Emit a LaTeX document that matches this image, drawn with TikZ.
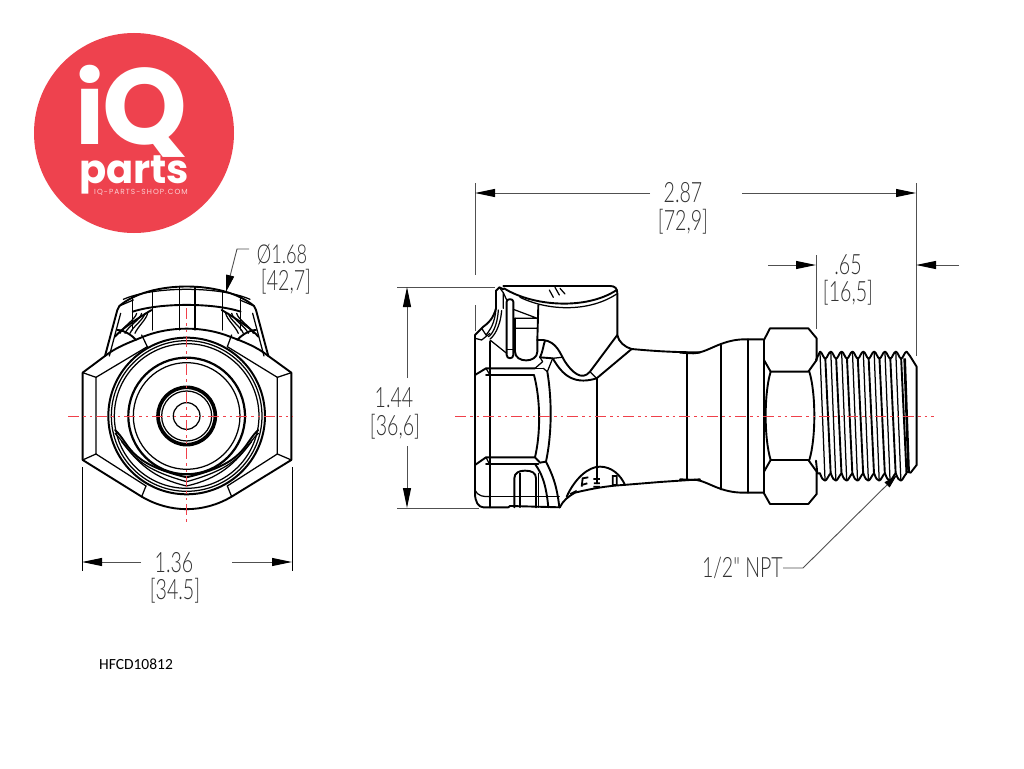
\documentclass[tikz,border=0pt]{standalone}
\usepackage{fontspec}
\usetikzlibrary{arrows.meta}
\setmainfont{Liberation Sans}
\newfontfamily\cad[FakeStretch=0.7]{Lato Light}
\newfontfamily\logofont{Poppins}[BoldFont=* Bold,UprightFont=* Medium]
\newfontfamily\logosmall[LetterSpace=14]{Poppins}
\newfontfamily\partno{Carlito}
\definecolor{logored}{HTML}{EE424E}
\definecolor{cl}{HTML}{F0404A}
\definecolor{dimc}{HTML}{505050}
\tikzset{
 ln/.style={line width=1.25pt,black,line join=round,line cap=round},
 hv/.style={line width=1.9pt,black,line join=round,line cap=round},
 ctr/.style={line width=0.9pt,cl,dash pattern=on 11pt off 4pt on 2.5pt off 4pt on 2.5pt off 4pt},
 ext/.style={line width=0.9pt,dimc},
 arr/.style={line width=1pt,dimc,-{Triangle[length=20pt,width=8pt,black]}},
 dt/.style={font=\cad\fontsize{28}{28}\selectfont,text=black!80,inner sep=0pt,anchor=center}
}
\begin{document}
\begin{tikzpicture}[x=1pt,y=-1pt]
\useasboundingbox (0,0) rectangle (1024,768);
\fill[white] (0,0) rectangle (1024,768);
% logo
\fill[logored] (134,133) circle (100);
\node[name=logoi,inner sep=0pt,text=white,anchor=base west] at (75,144) {\logofont\bfseries\fontsize{99}{99}\selectfont i};
\node[name=logoq,inner sep=0pt,text=white,anchor=base west] at (102,144) {\logofont\bfseries\fontsize{108}{108}\selectfont Q};
\node[name=logoparts,inner sep=0pt,text=white,anchor=base] at (134,183) {\logofont\bfseries\fontsize{40}{40}\selectfont parts};
\node[name=logosite,inner sep=0pt,text=white!75!logored,anchor=center] at (141,192.5) {\logosmall\fontsize{7.4}{7.4}\selectfont IQ-PARTS-SHOP.COM};

% ---------- left view
\begin{scope}[shift={(60,230)},x=0.3333pt,y=-0.3333pt]
 \draw[hv] (68,428)--(135,378) (135,378) .. controls (170,350) and (215,335) .. (250,320);
 \draw[hv] (250,320) .. controls (330,288) and (430,288) .. (510,320);
 \draw[hv] (510,320) .. controls (550,335) and (590,350) .. (625,378)--(694,428);
 \draw[hv] (68,428)--(68,690)--(245,800) .. controls (330,850) and (430,850) .. (515,800)--(694,690)--(694,428);
 \draw[ln] (68,428)--(108,442)--(108,672)--(68,690);
 \draw[ln] (694,428)--(652,442)--(652,672)--(694,690);
 \draw[ln] (108,442)--(262,350) (652,442)--(502,350);
 \draw[ln] (108,672)--(258,768) (652,672)--(502,768);
 \draw[ln] (245,800)--(258,768) (515,800)--(502,768);
 \draw[ln] (245,315)--(262,350) (515,315)--(502,350);
 % cap
 \draw[hv] (135,378)--(172,240)--(178,228) .. controls (270,150) and (490,150) .. (582,228)--(588,240)--(625,378);
 \draw[ln] (148,378)--(182,250) (612,378)--(578,250);
 \draw[ln] (178,228)--(220,210)(582,228)--(540,210);
 \draw[ln] (190,208) .. controls (280,168) and (480,168) .. (570,208);
 \draw[hv] (218,245) .. controls (300,218) and (460,218) .. (542,245);
 \foreach \a/\t in {218/200,278/182,358/171,405/171,488/184,542/200}{\draw[ln] (\a,\t)--(\a,300);}
 \draw[hv] (165,320) .. controls (180,300) and (240,260) .. (275,240);
 \draw[hv] (595,320) .. controls (580,300) and (520,260) .. (485,240);
 \foreach \a/\b in {180/225,195/240,210/250,225/258}{\draw[ln] (\a,310) .. controls (\a+8,290) and (\b,270) .. (\b+5,250);}
 \foreach \a/\b in {580/535,565/520,550/510,535/502}{\draw[ln] (\a,310) .. controls (\a-8,290) and (\b,270) .. (\b-5,250);}
 \draw[hv] (172,300) .. controls (195,300) and (220,320) .. (228,330) (588,300) .. controls (565,300) and (540,320) .. (532,330);
 % rings
 \coordinate (cc) at (380,558);
 \draw[line width=2pt] (cc) circle (235);
 \draw[ln] (cc) circle (226);
 \draw[ln] (cc) circle (217);
 \draw[line width=2.2pt] (cc) circle (175);
 \draw[ln] (cc) circle (160);
 \draw[line width=3.6pt] (cc) circle (86);
 \draw[ln] (cc) circle (75);
 \draw[ln] (cc) circle (40);
 \draw[hv] (165,600) .. controls (210,640) and (200,700) .. (380,742) .. controls (560,700) and (550,640) .. (595,600);
 \draw[ln] (165,610) .. controls (215,660) and (215,710) .. (380,755) .. controls (545,710) and (545,660) .. (595,610);
 \draw[ln] (185,635) .. controls (235,700) and (280,745) .. (380,768) .. controls (480,745) and (525,700) .. (575,635);
 % centre lines
 \draw[ctr] (25,558)--(700,558);
 \draw[ctr] (380,235)--(380,880);
\end{scope}

% ---------- right view, front half
\begin{scope}[shift={(460,270)},x=0.3333pt,y=-0.3333pt]
 \draw[hv] (130,48)--(450,48) .. controls (465,48) and (472,55) .. (472,70)--(472,195) .. controls (475,215) and (495,232) .. (515,237) .. controls (580,243) and (640,247) .. (720,247);
 \draw[hv] (130,58)--(118,52)--(108,62)--(108,115) .. controls (100,145) and (85,160) .. (70,170)--(45,195)--(45,670) .. controls (45,695) and (55,712) .. (70,712)--(145,712)--(150,708)--(300,712);
 \draw[hv] (300,712) .. controls (310,690) and (325,680) .. (345,668) .. controls (400,655) and (440,648) .. (490,645) -- (600,636)--(720,628);
 % cap curves
 \draw[hv] (132,55) .. controls (220,110) and (380,120) .. (470,60);
 \draw[ln] (180,82) .. controls (270,125) and (390,125) .. (470,72);
 \draw[ln] (268,60)--(280,82)(285,52)--(298,75)(300,55)--(315,72);
 \draw[hv] (235,105)--(232,210);
 % clip
 \draw[ln] (118,52)--(130,68)--(130,115) (130,68)--(140,90);
 \draw[hv] (140,95) .. controls (140,85) and (160,85) .. (160,95)--(160,255) .. controls (160,268) and (140,268) .. (140,255)--cycle;
 \draw[ln] (140,238)--(160,238);
 \draw[ln] (160,118)--(232,145) (165,145)--(232,145) (165,175)--(232,175);
 \draw[hv] (165,145)--(165,245) .. controls (165,280) and (232,280) .. (232,245)--(232,210);
 % fins
 \draw[ln] (108,115) .. controls (105,160) and (90,180) .. (78,195);
 \draw[ln] (115,120) .. controls (112,170) and (95,195) .. (85,200);
 \draw[ln] (125,122) .. controls (120,175) and (100,200) .. (90,207);
 \draw[ln] (78,195)--(65,175) (45,205)--(65,210)--(90,190);
 \draw[ln] (90,210)--(140,250);
 % S-curves
 \draw[hv] (232,210) -- (250,210) .. controls (290,215) and (300,250) .. (315,275) .. controls (335,305) and (365,335) .. (390,305)--(472,195);
 \draw[hv] (240,262) .. controls (250,240) and (250,225) .. (255,212);
 \draw[hv] (240,262) -- (278,265) .. controls (300,300) and (330,350) .. (410,325)--(515,237);
 \draw[ln] (278,265)--(305,262) (390,305)--(410,325);
 \draw[ln] (225,295)--(248,275)--(240,262) (278,265)--(262,305)--(250,295);
 % hex face
 \draw[hv] (45,315)--(78,295)--(225,295) (78,315)--(222,315) (45,585)--(78,562)--(225,562) (78,582)--(235,582);
 \draw[ln] (78,295)--(90,315) (78,562)--(88,582);
 \draw[hv] (90,215)--(90,712);
 \draw[hv] (222,315) .. controls (242,390) and (242,490) .. (225,562)--(240,578);
 \draw[hv] (262,305) .. controls (276,390) and (276,490) .. (258,575)--(240,578);
 \draw[ln] (225,295)--(250,295);
 % bottom clip
 \draw[hv] (163,712)--(163,625) .. controls (163,608) and (178,602) .. (195,602) .. controls (215,602) and (228,608) .. (228,625)--(228,712);
 \draw[ln] (180,610)--(180,712) (235,610)--(235,712);
 \draw[hv] (225,582) .. controls (245,610) and (258,640) .. (265,712);
 \draw[hv] (258,575) .. controls (275,610) and (290,640) .. (298,712);
 \draw[ln] (90,680)--(298,680);
 \draw[ln] (45,660) .. controls (55,680) and (70,680) .. (90,680);
 % verticals
 \draw[hv] (410,325)--(410,640);
 \draw[hv] (682,247)--(682,630);
 % stamp
 \draw[hv] (320,680) .. controls (345,625) and (385,590) .. (420,590) .. controls (455,590) and (482,615) .. (495,645);
 \draw[line width=1.8pt] (365,650)--(368,625)--(385,622)(382,640)--(365,645) (400,627)--(420,627) (402,640)--(420,640) (400,650)--(420,650) (458,618)--(458,645)--(470,645)--(470,618) -- cycle;
 \draw[line width=1.5pt] (330,672)--(350,662);
\end{scope}

% ---------- right view, rear half
\begin{scope}[shift={(680,310)},x=0.3333pt,y=-0.3333pt]
 \draw[hv] (0,128) -- (40,130) .. controls (80,130) and (120,90) .. (190,88)--(250,88);
 \draw[hv] (0,508) -- (50,510) .. controls (85,515) and (120,548) .. (190,548)--(250,548);
 \draw[hv] (22,128)--(22,510);
 \draw[hv] (122,105)--(122,538);
 \draw[hv] (205,88)--(205,548);
 \draw[hv] (252,90)--(252,550);
 \draw[hv] (270,55)--(385,55)--(410,85)--(410,150)--(385,185)--(272,185)--(252,150)--(252,90)--cycle;
 \draw[hv] (270,582)--(385,582)--(410,552)--(410,485)--(385,450)--(272,450)--(252,485)--(252,550)--cycle;
 \draw[hv] (272,185) .. controls (252,250) and (252,385) .. (272,450);
 \draw[hv] (388,185) .. controls (408,250) and (408,385) .. (388,450);
 % thread
 \foreach \i in {0,...,7}{
  \pgfmathsetmacro{\xa}{420+\i*32.5}
  \pgfmathsetmacro{\xb}{\xa+16}
  \pgfmathsetmacro{\xc}{\xa+32.5}
  \draw[hv] (\xa,125) .. controls (\xa+6,125) and (\xa+10,145) .. (\xb,146) .. controls (\xa+22,145) and (\xa+26,125) .. (\xc,125);
  \draw[hv] (\xa,490) .. controls (\xa+5,505) and (\xa+10,512) .. (\xa+15,512) .. controls (\xa+20,512) and (\xa+26,495) .. (\xa+32,490);
  \draw[ln] (\xa,128)--(\xa+15,508);
  \draw[hv] (\xb,146)--(\xa+32,490);
 }
 \draw[hv] (408,150)--(420,125) (408,452)--(412,490)--(420,490);
 \draw[hv] (680,125)--(690,138)--(710,170)--(710,465)--(692,488)--(682,486);
 \draw[line width=2.6pt] (674,145)--(686,488);
\end{scope}

% centre line right view
\draw[ctr] (455,416)--(934,416);

% ---------- dimensions
\coordinate (e1a) at (475,183); \coordinate (e1b) at (475,275);
\coordinate (e2a) at (916,183); \coordinate (e2b) at (916,356);
\draw[ext] (e1a)--(e1b) (e2a)--(e2b);
\coordinate (a1) at (650,193); \coordinate (a1t) at (475,193);
\coordinate (a2) at (742,193); \coordinate (a2t) at (916,193);
\draw[arr] (a1)--(a1t); \draw[arr] (a2)--(a2t);
\node[dt,name=t287] at (683,193) {2.87};
\node[dt,name=t729] at (683,222) {[72,9]};

\coordinate (e3a) at (816,255); \coordinate (e3b) at (816,329);
\draw[ext] (e3a)--(e3b);
\coordinate (a3) at (768,265); \coordinate (a3t) at (816,265);
\coordinate (a4) at (959,265); \coordinate (a4t) at (916,265);
\draw[arr] (a3)--(a3t); \draw[arr] (a4)--(a4t);
\node[dt,name=t65] at (848,265) {.65};
\node[dt,name=t165] at (848,293) {[16,5]};

\coordinate (e4a) at (397,287); \coordinate (e4b) at (495,287);
\coordinate (e5a) at (397,508); \coordinate (e5b) at (479,508);
\draw[ext] (e4a)--(e4b) (e5a)--(e5b);
\draw[ext] (475,305)--(475,331);
\coordinate (a5) at (407,378); \coordinate (a5t) at (407,287);
\coordinate (a6) at (407,446); \coordinate (a6t) at (407,508);
\draw[arr] (a5)--(a5t); \draw[arr] (a6)--(a6t);
\node[dt,name=t144] at (394,398) {1.44};
\node[dt,name=t366] at (395,427) {[36,6]};

\coordinate (e6a) at (82,467); \coordinate (e6b) at (82,571);
\coordinate (e7a) at (292,467); \coordinate (e7b) at (292,571);
\draw[ext,black] (e6a)--(e6b) (e7a)--(e7b);
\coordinate (a7) at (141,562); \coordinate (a7t) at (82,562);
\coordinate (a8) at (232,562); \coordinate (a8t) at (292,562);
\draw[arr] (a7)--(a7t); \draw[arr] (a8)--(a8t);
\node[dt,name=t136] at (174,563) {1.36};
\node[dt,name=t345] at (175,591) {[34.5]};

\coordinate (l1) at (249,249); \coordinate (l2) at (237,249); \coordinate (l3) at (226,292);
\draw[line width=0.9pt,dimc,-{Triangle[length=17pt,width=8pt,black]}] (l1)--(l2)--(l3);
\node[dt,name=t168,font=\cad\fontsize{26}{26}\selectfont] at (282,255) {Ø1.68};
\node[dt,name=t427] at (286,282) {[42,7]};

\coordinate (l4) at (783,568); \coordinate (l5) at (803,568); \coordinate (l6) at (897,475);
\draw[line width=0.9pt,dimc,-{Triangle[length=14pt,width=7pt,black]}] (l4)--(l5)--(l6);
\node[dt,name=tnpt,anchor=east] at (783,568) {1/2" NPT};

\node[name=part,inner sep=0pt,anchor=center,text=black] at (136,664.5) {\partno\fontsize{15.5}{15.5}\selectfont HFCD10812};
\end{tikzpicture}
\end{document}
